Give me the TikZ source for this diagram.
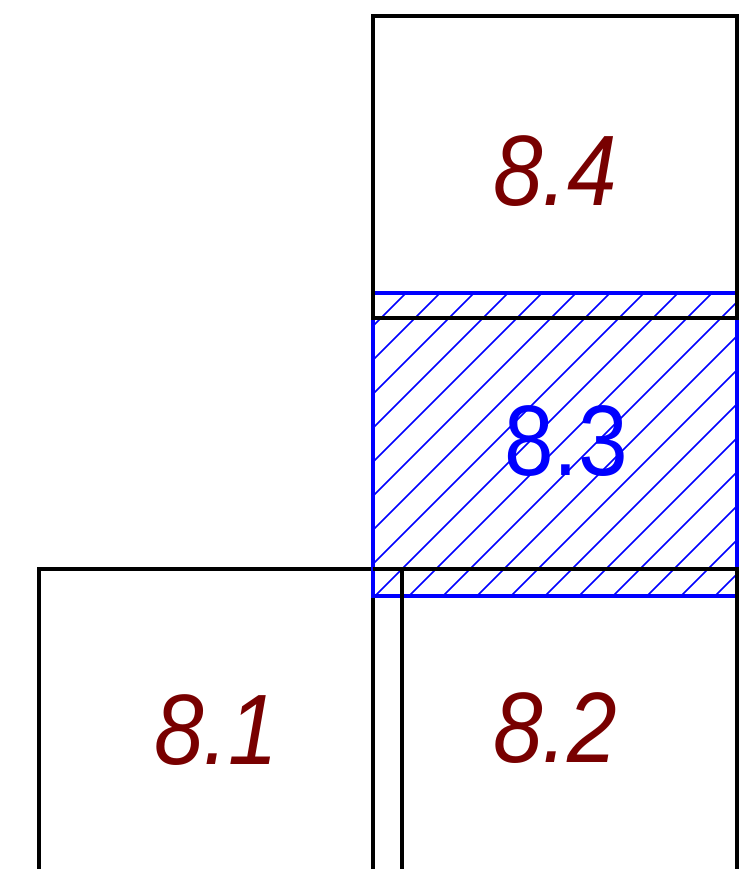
\documentclass[tikz,border=0pt]{standalone}
\usepackage{fontspec}
\setmainfont{Liberation Sans}
\newfontfamily\roomfont[FakeStretch=0.89]{Liberation Sans}
\usetikzlibrary{positioning}
\definecolor{roomred}{RGB}{120,0,0}
\definecolor{selblue}{RGB}{0,0,255}
\tikzset{
  wall/.style={line width=0.088cm,black,line join=miter},
  sel/.style={line width=0.088cm,selblue},
  hatch/.style={line width=0.032cm,selblue},
  lbl/.style={font=\roomfont\fontsize{57}{60}\selectfont\itshape,text=roomred,inner sep=0pt},
  sellbl/.style={font=\roomfont\fontsize{57}{60}\selectfont,text=selblue,inner sep=0pt},
}

\begin{document}
\begin{tikzpicture}[x=0.02cm,y=-0.02cm]
  \useasboundingbox (0,0) rectangle (747,869);
  \clip (0,0) rectangle (747,869);
  % room 8.1
  \draw[wall] (373,900) -- (373,569) -- (39,569) -- (39,900);
  % room 8.3, selected and hatched
  \begin{scope}
    \clip (373,293) rectangle (737,596);
    \foreach \k in {-10,...,11}
      \draw[hatch] ({971+34*\k-596},596) -- ({971+34*\k-293},293);
  \end{scope}
  \draw[sel] (373,293) rectangle (737,596);
  % room 8.2
  \draw[wall] (373,569) -- (737,569) -- (737,900);
  \draw[wall] (402,569) -- (402,900);
  % room 8.4
  \draw[wall] (373,16) rectangle (737,318);
  % labels
  \node[lbl] (l84) at (555,171) {8.4};
  \node[sellbl] (l83) at (566,441) {8.3};
  \node[lbl] (l81) at (216,730) {8.1};
  \node[lbl] (l82) at (555,728) {8.2};
\end{tikzpicture}
\end{document}
